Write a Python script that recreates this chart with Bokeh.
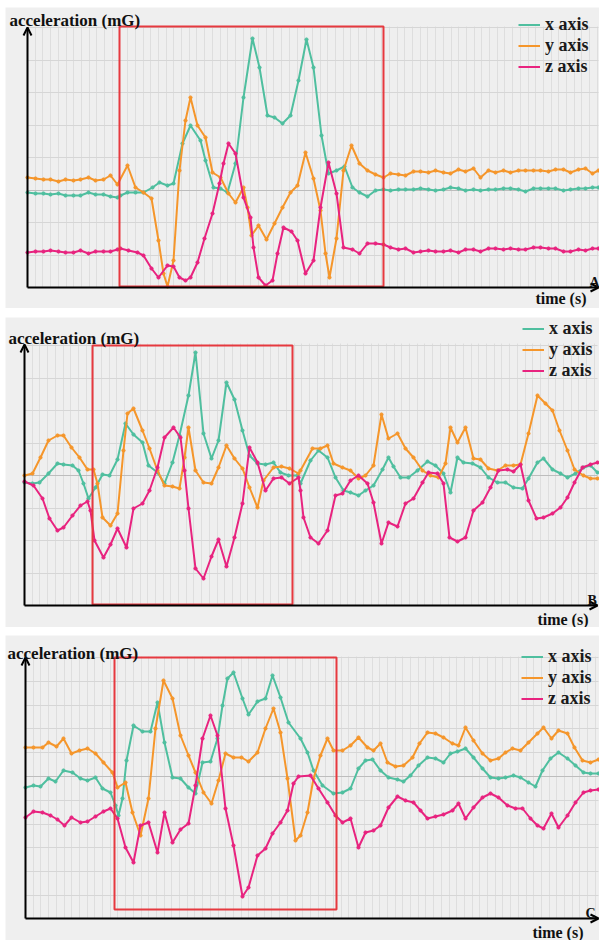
import numpy as np
from bokeh.plotting import figure
from bokeh.models import (Range1d, Grid, FixedTicker, BoxAnnotation, Arrow, OpenHead,
                          Label, Legend, LegendItem)
from bokeh.layouts import column
from bokeh.embed import file_html
from bokeh.resources import INLINE

# ---------------- Panel A ----------------
a_x_t = [0, 8, 16, 23, 31, 38, 46, 53, 61, 68, 76, 83, 90, 93, 100, 108, 116, 125, 132, 140, 146,
         155, 163, 173, 178, 186, 193, 200, 208, 216, 225, 232, 240, 247, 255, 263, 271, 279, 286, 294, 301,
         309, 317, 325, 332, 340, 348, 356, 363, 371, 378, 386, 393, 401, 408, 416, 423, 431, 438, 446, 453,
         461, 468, 476, 483, 491, 498, 506, 513, 521, 528, 536, 543, 551, 558, 565, 571]
a_x_v = [95, 94, 94, 93, 94, 92, 92, 92, 95, 93, 93, 91, 90, 92, 95, 95, 95, 100, 105, 102, 104,
         144, 162, 147, 127, 100, 99, 95, 124, 190, 249, 220, 172, 170, 164, 172, 207, 248, 220, 152, 114,
         117, 121, 100, 95, 91, 97, 98, 97, 98, 98, 98, 99, 98, 97, 98, 100, 99, 97, 98, 97,
         98, 98, 99, 99, 98, 96, 99, 99, 99, 99, 97, 98, 99, 99, 100, 100]
a_y_t = [0, 8, 16, 23, 31, 38, 46, 53, 61, 68, 76, 83, 90, 100, 108, 116, 124, 131, 136, 140, 146, 152, 158,
         163, 170, 178, 185, 193, 201, 208, 216, 220, 224, 231, 239, 247, 255, 263, 270, 278, 286, 293, 298,
         302, 309, 316, 324, 332, 340, 348, 356, 363, 371, 378, 386, 393, 401, 408, 416, 423, 431,
         438, 446, 453, 461, 468, 476, 483, 491, 498, 506, 513, 521, 528, 536, 543, 551, 558, 565, 571]
a_y_v = [110, 109, 108, 108, 106, 108, 107, 108, 110, 107, 108, 112, 103, 122, 100, 95, 89, 47, 14, 1, 27, 117, 167,
         190, 162, 150, 115, 110, 94, 85, 100, 80, 52, 62, 48, 64, 80, 95, 102, 135, 109, 77, 34,
         10, 49, 117, 142, 124, 117, 113, 110, 114, 113, 112, 116, 116, 115, 117, 115, 114, 118,
         116, 119, 110, 117, 115, 117, 115, 117, 117, 117, 117, 116, 118, 118, 115, 118, 119, 114, 117]
a_z_t = [0, 8, 16, 23, 31, 38, 46, 53, 61, 68, 76, 83, 90, 93, 101, 110, 116, 124, 131, 140,
         146, 152, 158, 163, 170, 177, 185, 192, 196, 201, 208, 216, 223, 226, 231, 238, 245, 250, 256, 264,
         270, 278, 286, 293, 301, 309, 316, 325, 332, 340, 348, 356, 363, 371, 378, 386, 393, 401, 408, 416,
         423, 431, 438, 446, 453, 461, 468, 476, 483, 491, 498, 506, 513, 521, 528, 536, 543, 551, 558, 565, 571]
a_z_v = [35, 36, 36, 37, 36, 35, 35, 37, 34, 36, 36, 36, 38, 39, 37, 35, 32, 19, 10, 22,
         21, 10, 7, 10, 25, 49, 74, 104, 124, 144, 134, 90, 70, 40, 10, 2, 7, 34, 60, 56,
         47, 14, 27, 80, 125, 94, 40, 38, 34, 44, 44, 43, 40, 38, 39, 35, 36, 37, 36, 36,
         37, 35, 38, 38, 36, 39, 39, 38, 39, 38, 38, 40, 40, 39, 39, 36, 36, 38, 37, 39, 39]
a_window = (92, 356, 1, 261)

# ---------------- Panel B ----------------
b_x_t = [0, 8, 15, 24, 33, 39, 48, 54, 59, 64, 71, 78, 85, 93, 101, 109, 118, 124, 133, 140,
         148, 155, 164, 171, 179, 187, 194, 202, 210, 218, 225, 233, 241, 249, 256, 264, 273, 276, 286, 294,
         303, 311, 319, 326, 334, 341, 349, 358, 364, 369, 376, 384, 393, 403, 411, 419, 426, 433, 439, 448,
         456, 464, 473, 481, 489, 498, 504, 513, 519, 528, 536, 543, 551, 559, 566, 573]
b_x_v = [-7, -8, -7, 2, 12, 11, 10, 5, -8, -23, -12, 1, 0, 16, 52, 41, 33, 10, 3, -8,
         13, 40, 80, 123, 42, 17, 35, 93, 76, 45, 20, 12, 11, 13, 3, 0, 0, -8, 15, 25,
         18, -2, -15, -17, -20, -15, -10, 6, 18, 9, -2, -2, 5, 14, 10, 2, -17, 18, 13, 12,
         8, -2, -7, -7, -12, -13, -3, 13, 17, 6, 2, -2, 2, 8, 10, 3]
b_y_t = [0, 8, 16, 24, 33, 39, 47, 55, 63, 69, 73, 78, 86, 93, 99, 103, 109, 118, 125, 133,
         140, 148, 155, 160, 164, 171, 179, 187, 194, 202, 210, 218, 225, 233, 239, 249, 257, 265, 274, 276,
         288, 296, 303, 309, 318, 326, 334, 341, 349, 357, 364, 373, 381, 389, 398, 406, 414, 421, 426, 433,
         441, 449, 456, 464, 473, 481, 489, 496, 504, 513, 521, 528, 535, 543, 550, 559, 566, 573]
b_y_v = [0, 2, 18, 35, 40, 40, 28, 18, 6, 6, -8, -42, -50, -38, 25, 62, 67, 45, 27, 5,
         -10, -11, -13, 18, 48, 5, -7, -8, 8, 30, 17, 7, -12, -32, -5, 8, 9, 7, 2, 5,
         27, 27, 30, 12, 8, 5, -3, 0, 10, 61, 37, 42, 27, 18, 5, 0, -2, 12, 48, 33,
         48, 17, 16, 7, 5, 10, 10, 11, 42, 80, 72, 65, 45, 25, 6, 0, -3, -3]
b_z_t = [0, 9, 18, 25, 33, 39, 48, 56, 63, 66, 70, 79, 86, 93, 102, 109, 118, 125, 133, 140,
         149, 156, 160, 164, 171, 179, 187, 194, 202, 210, 218, 225, 233, 241, 249, 257, 265, 274, 276, 279,
         286, 294, 303, 311, 318, 326, 334, 343, 349, 357, 364, 373, 381, 389, 398, 404, 413, 419, 425, 433,
         441, 449, 458, 466, 474, 483, 489, 496, 504, 512, 519, 528, 536, 543, 550, 558, 566, 573]
b_z_v = [-6, -10, -23, -43, -55, -52, -40, -30, -26, -35, -65, -82, -69, -53, -72, -33, -28, -15, 8, 38,
         48, 38, 5, -33, -93, -103, -81, -64, -91, -62, -28, 28, 13, -15, -3, -2, -8, -2, -15, -42,
         -62, -68, -55, -20, -18, -5, 0, -8, -27, -68, -47, -51, -28, -23, -7, 3, 2, -8, -62, -66,
         -62, -35, -27, -12, 5, 6, 4, 11, -25, -43, -42, -38, -32, -22, -7, 8, 11, 13]
b_window = (68, 268, -129, 130)

# ---------------- Panel C ----------------
c_x_t = [0, 8, 15, 23, 30, 38, 47, 55, 62, 70, 77, 85, 90, 93, 97, 101, 108, 117, 125, 132,
         139, 147, 155, 163, 170, 177, 185, 192, 197, 202, 208, 217, 223, 232, 240, 247, 255, 263, 275, 282,
         288, 297, 308, 317, 325, 333, 340, 347, 355, 363, 372, 378, 385, 393, 402, 410, 418, 425, 432, 440,
         448, 457, 465, 473, 480, 488, 495, 503, 510, 517, 525, 533, 542, 550, 558, 565, 573]
c_x_v = [-11, -9, -10, -2, -5, 6, 4, -2, -4, -1, -12, -16, -29, -39, -22, 16, 51, 45, 45, 74,
         34, -1, -2, -11, -17, 14, 15, 38, 71, 98, 104, 78, 62, 75, 78, 101, 79, 54, 38, 24,
         6, -9, -17, -16, -12, 8, 16, 17, 6, -1, -3, -5, 1, 11, 19, 18, 14, 23, 25, 28,
         19, 8, -1, -2, -1, 1, -1, -6, -10, 6, 18, 24, 18, 11, 4, 3, 3]
c_y_t = [0, 8, 17, 23, 31, 38, 46, 54, 62, 70, 78, 87, 92, 100, 107, 115, 123, 130, 138, 147,
         155, 163, 170, 178, 186, 193, 200, 208, 216, 223, 232, 240, 248, 255, 262, 270, 275, 282, 288, 295,
         302, 308, 317, 325, 333, 342, 348, 355, 362, 370, 378, 387, 394, 402, 410, 418, 427, 433, 440, 448,
         457, 465, 473, 480, 487, 495, 503, 512, 518, 526, 533, 542, 549, 557, 565, 573]
c_y_v = [29, 29, 29, 34, 30, 38, 23, 26, 28, 23, 14, 4, -11, -6, -36, -59, -22, 48, 96, 78,
         41, 21, 4, -16, -27, -4, 23, 19, 19, 15, 24, 48, 68, 44, -2, -64, -59, -36, -2, 21,
         38, 26, 26, 31, 39, 29, 26, 33, 14, 10, 11, 19, 33, 44, 43, 39, 33, 31, 49, 36,
         23, 16, 18, 24, 28, 26, 34, 43, 49, 38, 46, 43, 29, 16, 14, 17]
c_z_t = [0, 8, 17, 25, 32, 39, 46, 55, 62, 70, 78, 85, 92, 100, 108, 115, 123, 132, 139, 147,
         155, 163, 170, 177, 185, 192, 200, 208, 217, 223, 232, 240, 247, 255, 262, 268, 273, 285, 293, 302,
         310, 317, 325, 333, 340, 348, 355, 363, 372, 380, 388, 395, 402, 410, 418, 427, 433, 440, 448, 457,
         465, 473, 482, 490, 497, 505, 512, 518, 526, 533, 542, 550, 558, 565, 573]
c_z_v = [-41, -35, -36, -39, -43, -49, -41, -46, -45, -40, -35, -32, -42, -71, -86, -49, -46, -76, -36, -66,
         -53, -47, -9, 38, 61, 41, -32, -69, -120, -111, -79, -72, -57, -46, -34, -7, 0, 1, -12, -26,
         -39, -46, -42, -71, -56, -54, -49, -31, -20, -24, -26, -34, -42, -40, -38, -34, -27, -42, -31, -21,
         -17, -21, -29, -32, -32, -42, -49, -52, -37, -51, -39, -26, -16, -14, -13]
c_window = (89, 311, -133, 119)

series_names = ["x axis", "y axis", "z axis"]
series_colors = ["#4fbf9f", "#f5962b", "#e8237f"]

BG = "#efefef"
SERIF = "Liberation Serif"
FIG_W = 594
HAS_CROSS = "cross_bounds" in Grid.properties()


def grid_lines(p, dim, ticks, lo, hi, color):
    """Grid lines limited to the plotting area [lo, hi] of the cross dimension."""
    if HAS_CROSS:
        p.add_layout(Grid(dimension=dim, ticker=FixedTicker(ticks=list(ticks)),
                          cross_bounds=(lo, hi), grid_line_color=color, grid_line_width=1))
    else:
        ticks = list(ticks)
        if dim == 0:
            p.segment(x0=ticks, y0=[lo] * len(ticks), x1=ticks, y1=[hi] * len(ticks),
                      line_color=color, line_width=1)
        else:
            p.segment(x0=[lo] * len(ticks), y0=ticks, x1=[hi] * len(ticks), y1=ticks,
                      line_color=color, line_width=1)


def make_panel(data, x_max, y_lo, y_hi, h_ticks, h_dark, window, legend_xy,
               title_xy, time_xy, letter, letter_xy, height, b_top, b_bottom, b_left, gap_top):
    b_right = FIG_W - b_left - x_max
    p = figure(width=FIG_W, height=height,
               x_range=Range1d(-b_left, x_max + b_right),
               y_range=Range1d(y_lo - b_bottom, y_hi + b_top),
               x_axis_type=None, y_axis_type=None,
               output_backend="svg", toolbar_location=None,
               min_border=0, min_border_left=0, min_border_right=0,
               min_border_top=0, min_border_bottom=0,
               margin=(gap_top, 0, 0, 5))
    p.background_fill_color = BG
    p.border_fill_color = BG
    p.outline_line_color = None

    grid_lines(p, 0, np.arange(7.7, x_max, 7.7), y_lo, y_hi, "#dedede")
    grid_lines(p, 1, h_ticks, 0, x_max, "#d6d6d6")
    grid_lines(p, 1, [h_dark], 0, x_max, "#bdbdbd")

    items = []
    for (t, v), name, col in zip(data, series_names, series_colors):
        r = p.line(t, v, line_color=col, line_width=2)
        p.scatter(t, v, size=3.2, color=col)
        items.append(LegendItem(label=name, renderers=[r]))

    l, r_, b, t_ = window
    p.add_layout(BoxAnnotation(left=l, right=r_, bottom=b, top=t_,
                               fill_color=None, fill_alpha=0,
                               line_color="#e6393f", line_alpha=1, line_width=2))

    p.add_layout(Arrow(end=OpenHead(size=8, line_width=2, line_color="black"),
                       x_start=0, y_start=y_lo, x_end=0, y_end=y_hi - 1,
                       line_width=2, line_color="black"))
    p.add_layout(Arrow(end=OpenHead(size=8, line_width=2, line_color="black"),
                       x_start=0, y_start=y_lo, x_end=x_max, y_end=y_lo,
                       line_width=2, line_color="black"))

    legend = Legend(items=items, location=legend_xy, orientation="vertical",
                    background_fill_alpha=0, border_line_color=None,
                    label_text_font=SERIF, label_text_font_style="bold",
                    label_text_font_size="18px", label_text_color="#1a1a1a",
                    glyph_width=22, glyph_height=17, label_height=17,
                    spacing=-7, padding=0, margin=0, label_standoff=5)
    p.add_layout(legend)

    p.add_layout(Label(x=title_xy[0], y=title_xy[1], text="acceleration (mG)",
                       text_font=SERIF, text_font_style="bold", text_font_size="17px",
                       text_color="#111111", text_baseline="alphabetic", text_align="left"))
    p.add_layout(Label(x=time_xy[0], y=time_xy[1], text="time (s)",
                       text_font=SERIF, text_font_style="bold", text_font_size="16px",
                       text_color="#111111", text_baseline="alphabetic", text_align="right"))
    p.add_layout(Label(x=letter_xy[0], y=letter_xy[1], text=letter,
                       text_font=SERIF, text_font_style="bold", text_font_size="14px",
                       text_color="#111111", text_baseline="alphabetic", text_align="left"))
    return p


pA = make_panel([(a_x_t, a_x_v), (a_y_t, a_y_v), (a_z_t, a_z_v)],
                571, 0, 261, [32.5 * k for k in range(1, 9)], 97.5, a_window, (513, 231),
                (-18, 267), (559, -11), "A", (562, 5), 301, 19, 21, 22, 7)
pB = make_panel([(b_x_t, b_x_v), (b_y_t, b_y_v), (b_z_t, b_z_v)],
                573, -130, 132, [32.5 * k for k in range(-3, 5)], 0, b_window, (517, 246),
                (-16, 137), (564, -144), "B", (563, -125), 310, 26, 22, 19, 9)
pC = make_panel([(c_x_t, c_x_v), (c_y_t, c_y_v), (c_z_t, c_z_v)],
                573, -142, 120, [23.8 * k for k in range(-5, 6)], 0, c_window, (516, 231),
                (-18, 123), (558, -156), "C", (560, -137), 305, 21, 22, 20, 8)

layout = column(pA, pB, pC, spacing=0)
open("out.html", "w").write(file_html(layout, INLINE))
